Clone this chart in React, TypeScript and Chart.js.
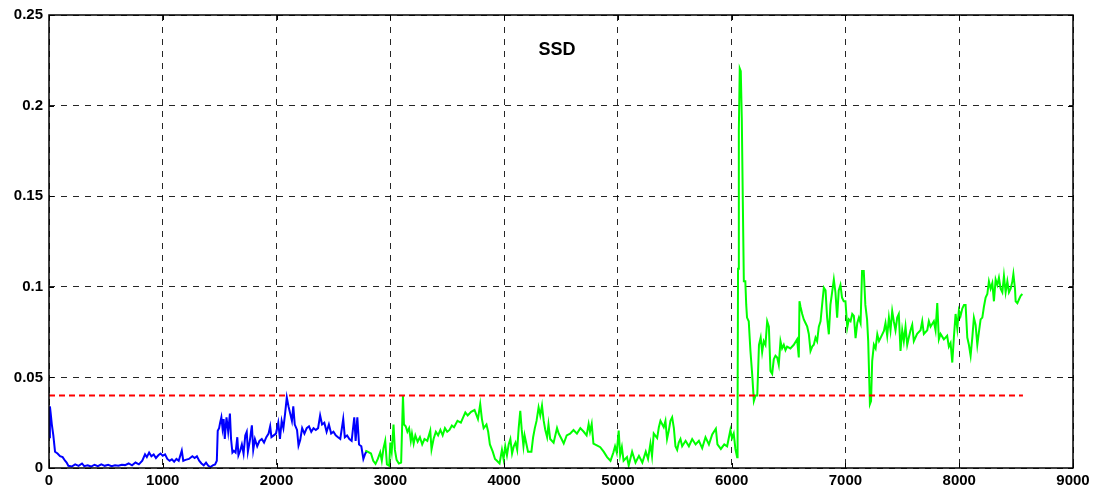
import React, { useEffect, useRef } from "react";
import { Chart, registerables } from "chart.js";

Chart.register(...registerables);

// Axis ticks
const xTicks = [0, 1000, 2000, 3000, 4000, 5000, 6000, 7000, 8000, 9000];
const yTicks = [0, 0.05, 0.1, 0.15, 0.2, 0.25];

// Threshold line
const thresholdValue = 0.04;
const thresholdStart = 0;
const thresholdEnd = 8560;

const titleText = "SSD";

// Training segment (sample index, SSD)
const blueSeries: [number, number][] = [
  [0, 0.017], [8, 0.034], [15, 0.03], [25, 0.024], [38, 0.018], [53, 0.009], [75, 0.008],
  [97, 0.0065], [120, 0.006], [141, 0.004], [155, 0.003], [170, 0.0012], [200, 0.0008],
  [230, 0.002], [260, 0.0012], [290, 0.0025], [310, 0.001], [340, 0.0015], [370, 0.0008],
  [400, 0.0018], [430, 0.001], [460, 0.002], [490, 0.0012], [520, 0.0018], [550, 0.001],
  [580, 0.0015], [610, 0.0012], [640, 0.0018], [668, 0.0016], [700, 0.0025], [730, 0.0015],
  [760, 0.003], [790, 0.002], [820, 0.004], [844, 0.0075], [860, 0.006], [880, 0.0085],
  [900, 0.0065], [920, 0.0075], [940, 0.0055], [961, 0.007], [980, 0.008], [1000, 0.0068],
  [1020, 0.0075], [1040, 0.005], [1060, 0.004], [1080, 0.0048], [1100, 0.0035], [1120, 0.005],
  [1140, 0.004], [1167, 0.0096], [1180, 0.004], [1200, 0.0045], [1230, 0.005], [1260, 0.0065],
  [1280, 0.0055], [1300, 0.0065], [1320, 0.004], [1340, 0.0025], [1360, 0.0015], [1380, 0.003],
  [1400, 0.0012], [1420, 0.0005], [1440, 0.0015], [1460, 0.002], [1475, 0.004], [1483, 0.0206],
  [1495, 0.022], [1504, 0.025], [1515, 0.028], [1525, 0.022], [1535, 0.027], [1545, 0.016],
  [1560, 0.028], [1575, 0.02], [1590, 0.03], [1600, 0.016], [1612, 0.0085], [1625, 0.0095],
  [1640, 0.0085], [1655, 0.017], [1665, 0.007], [1680, 0.0095], [1695, 0.013], [1710, 0.008],
  [1725, 0.018], [1738, 0.02], [1748, 0.009], [1765, 0.015], [1783, 0.0235], [1795, 0.01],
  [1810, 0.016], [1830, 0.012], [1850, 0.015], [1870, 0.016], [1890, 0.014], [1910, 0.017],
  [1930, 0.019], [1944, 0.023], [1955, 0.017], [1975, 0.018], [1995, 0.019], [2015, 0.025],
  [2030, 0.016], [2045, 0.026], [2060, 0.022], [2075, 0.03], [2090, 0.039], [2105, 0.034],
  [2120, 0.03], [2135, 0.026], [2147, 0.034], [2160, 0.024], [2180, 0.021], [2193, 0.0124],
  [2208, 0.0155], [2225, 0.022], [2245, 0.019], [2265, 0.022], [2285, 0.023], [2305, 0.02],
  [2325, 0.022], [2345, 0.021], [2365, 0.022], [2383, 0.029], [2400, 0.024], [2420, 0.025],
  [2440, 0.02], [2460, 0.024], [2480, 0.019], [2500, 0.02], [2520, 0.018], [2540, 0.017],
  [2560, 0.016], [2586, 0.027], [2600, 0.017], [2620, 0.018], [2640, 0.016], [2660, 0.015],
  [2683, 0.028], [2695, 0.015], [2710, 0.028], [2725, 0.013], [2745, 0.012], [2763, 0.005],
  [2780, 0.008], [2792, 0.009],
];

// Monitoring segment (sample index, SSD)
const greenSeries: [number, number][] = [
  [2780, 0.0096], [2800, 0.009], [2830, 0.008], [2850, 0.004], [2870, 0.0023], [2890, 0.005],
  [2911, 0.0087], [2925, 0.004], [2940, 0.011], [2955, 0.015], [2970, 0.002], [2990, 0.0012],
  [3000, 0.014], [3012, 0.009], [3028, 0.024], [3040, 0.01], [3055, 0.0045], [3075, 0.0025],
  [3095, 0.003], [3111, 0.04], [3120, 0.024], [3135, 0.023], [3150, 0.02], [3165, 0.022],
  [3180, 0.015], [3190, 0.019], [3205, 0.0135], [3220, 0.018], [3240, 0.0145], [3260, 0.017],
  [3280, 0.013], [3300, 0.016], [3325, 0.015], [3351, 0.0206], [3362, 0.0103], [3380, 0.016],
  [3400, 0.02], [3420, 0.018], [3440, 0.021], [3460, 0.018], [3480, 0.022], [3500, 0.02],
  [3520, 0.021], [3541, 0.0234], [3560, 0.0225], [3590, 0.026], [3620, 0.025], [3659, 0.0307],
  [3680, 0.029], [3710, 0.031], [3740, 0.032], [3770, 0.027], [3790, 0.0353], [3805, 0.027],
  [3820, 0.022], [3845, 0.024], [3860, 0.02], [3875, 0.013], [3900, 0.009], [3920, 0.005],
  [3937, 0.004], [3960, 0.0025], [3981, 0.01], [3995, 0.005], [4010, 0.012], [4025, 0.007],
  [4040, 0.013], [4055, 0.016], [4070, 0.008], [4085, 0.012], [4100, 0.014], [4115, 0.01],
  [4128, 0.022], [4142, 0.0316], [4155, 0.021], [4170, 0.012], [4180, 0.018], [4195, 0.0135],
  [4210, 0.009], [4240, 0.009], [4255, 0.017], [4270, 0.022], [4285, 0.026], [4303, 0.0335],
  [4318, 0.029], [4333, 0.0344], [4348, 0.026], [4362, 0.021], [4378, 0.017], [4390, 0.024],
  [4405, 0.016], [4435, 0.014], [4465, 0.022], [4480, 0.019], [4505, 0.016], [4524, 0.0135],
  [4550, 0.018], [4580, 0.019], [4610, 0.021], [4640, 0.019], [4670, 0.022], [4700, 0.02],
  [4725, 0.018], [4743, 0.0243], [4755, 0.02], [4770, 0.0243], [4785, 0.0135], [4815, 0.0125],
  [4845, 0.0115], [4875, 0.009], [4905, 0.006], [4935, 0.004], [4960, 0.0085], [4975, 0.012],
  [4990, 0.0085], [5007, 0.0206], [5020, 0.007], [5035, 0.0115], [5050, 0.004], [5080, 0.006],
  [5095, 0.0014], [5125, 0.009], [5155, 0.003], [5185, 0.0067], [5215, 0.003], [5245, 0.009],
  [5265, 0.005], [5286, 0.0135], [5300, 0.0067], [5315, 0.019], [5345, 0.0165], [5360, 0.0225],
  [5374, 0.026], [5403, 0.0225], [5418, 0.026], [5432, 0.016], [5447, 0.0205], [5462, 0.026],
  [5477, 0.028], [5492, 0.022], [5506, 0.012], [5521, 0.01], [5535, 0.014], [5550, 0.016],
  [5565, 0.012], [5595, 0.015], [5624, 0.012], [5653, 0.016], [5683, 0.013], [5712, 0.015],
  [5741, 0.011], [5770, 0.017], [5800, 0.013], [5829, 0.0185], [5861, 0.0217], [5875, 0.013],
  [5905, 0.0105], [5935, 0.013], [5960, 0.012], [5989, 0.021], [6003, 0.0165], [6018, 0.019],
  [6033, 0.0105], [6048, 0.006], [6052, 0.032], [6056, 0.11], [6063, 0.186], [6071, 0.2205],
  [6080, 0.219], [6089, 0.193], [6098, 0.147], [6107, 0.103], [6120, 0.103], [6128, 0.09],
  [6135, 0.083], [6150, 0.081], [6165, 0.0646], [6180, 0.052], [6195, 0.037], [6210, 0.04],
  [6225, 0.04], [6240, 0.068], [6255, 0.072], [6268, 0.064], [6282, 0.07], [6297, 0.068],
  [6312, 0.081], [6327, 0.078], [6341, 0.0536], [6356, 0.052], [6370, 0.06], [6385, 0.062],
  [6400, 0.061], [6414, 0.057], [6429, 0.07], [6443, 0.066], [6458, 0.068], [6473, 0.065],
  [6487, 0.067], [6516, 0.066], [6546, 0.068], [6575, 0.071], [6590, 0.061], [6596, 0.092],
  [6605, 0.089], [6620, 0.085], [6634, 0.082], [6649, 0.08], [6664, 0.078], [6678, 0.074],
  [6693, 0.0646], [6708, 0.067], [6722, 0.068], [6737, 0.072], [6751, 0.07], [6766, 0.078],
  [6781, 0.081], [6795, 0.09], [6810, 0.0995], [6825, 0.098], [6839, 0.083], [6854, 0.0738],
  [6868, 0.09], [6883, 0.097], [6898, 0.104], [6912, 0.097], [6927, 0.083], [6941, 0.098],
  [6956, 0.101], [6970, 0.094], [6985, 0.092], [7000, 0.092], [7016, 0.0775], [7030, 0.082],
  [7045, 0.081], [7060, 0.085], [7074, 0.084], [7089, 0.0717], [7104, 0.08], [7118, 0.083],
  [7133, 0.08], [7146, 0.1087], [7161, 0.1087], [7175, 0.09], [7190, 0.082], [7200, 0.07],
  [7215, 0.0353], [7225, 0.037], [7235, 0.059], [7250, 0.068], [7265, 0.066], [7280, 0.0738],
  [7295, 0.07], [7338, 0.0756], [7352, 0.08], [7367, 0.073], [7382, 0.083], [7396, 0.076],
  [7411, 0.0866], [7425, 0.081], [7440, 0.076], [7455, 0.083], [7469, 0.085], [7484, 0.0646],
  [7499, 0.076], [7513, 0.07], [7528, 0.078], [7543, 0.068], [7557, 0.072], [7572, 0.076],
  [7587, 0.079], [7601, 0.07], [7630, 0.074], [7660, 0.076], [7675, 0.081], [7689, 0.074],
  [7719, 0.076], [7733, 0.081], [7748, 0.078], [7777, 0.081], [7792, 0.076], [7807, 0.091],
  [7821, 0.071], [7836, 0.074], [7865, 0.071], [7894, 0.073], [7909, 0.067], [7924, 0.069],
  [7939, 0.0582], [7953, 0.072], [7968, 0.085], [7983, 0.077], [7997, 0.087], [8012, 0.084],
  [8027, 0.088], [8042, 0.09], [8056, 0.09], [8071, 0.072], [8085, 0.068], [8100, 0.062],
  [8115, 0.072], [8129, 0.083], [8144, 0.079], [8159, 0.068], [8173, 0.075], [8188, 0.082],
  [8203, 0.083], [8217, 0.089], [8232, 0.094], [8247, 0.096], [8261, 0.103], [8276, 0.099],
  [8291, 0.102], [8305, 0.092], [8320, 0.104], [8335, 0.101], [8349, 0.105], [8364, 0.099],
  [8379, 0.097], [8393, 0.106], [8408, 0.097], [8423, 0.103], [8437, 0.097], [8452, 0.099],
  [8467, 0.103], [8476, 0.107], [8490, 0.099], [8496, 0.092], [8511, 0.091], [8525, 0.093],
  [8540, 0.095], [8555, 0.096],
];

const FONT_FAMILY = '"Liberation Sans", Arial, Helvetica, sans-serif';

// Box outline, inward tick marks and the in-plot title
const framePlugin = {
  id: "frame",
  afterDraw(chart: any) {
    const { ctx, chartArea, scales } = chart;
    const { left, right, top, bottom } = chartArea;
    ctx.save();
    ctx.strokeStyle = "#000";
    ctx.lineWidth = 1;
    ctx.setLineDash([]);
    ctx.beginPath();
    const tick = 5;
    for (const v of yTicks) {
      const py = Math.round(scales.y.getPixelForValue(v)) + 0.5;
      ctx.moveTo(left, py);
      ctx.lineTo(left + tick, py);
      ctx.moveTo(right, py);
      ctx.lineTo(right - tick, py);
    }
    for (const v of xTicks) {
      const px = Math.round(scales.x.getPixelForValue(v)) + 0.5;
      ctx.moveTo(px, bottom);
      ctx.lineTo(px, bottom - tick);
      ctx.moveTo(px, top);
      ctx.lineTo(px, top + tick);
    }
    ctx.stroke();
    ctx.lineWidth = 1.5;
    ctx.strokeRect(left, top, right - left, bottom - top);

    ctx.fillStyle = "#000";
    ctx.font = `bold 18px ${FONT_FAMILY}`;
    ctx.textAlign = "center";
    ctx.textBaseline = "middle";
    ctx.fillText(titleText, (left + right) / 2 - 4, top + 35);
    ctx.restore();
  },
};

export default function App() {
  const canvasRef = useRef<HTMLCanvasElement | null>(null);

  useEffect(() => {
    if (!canvasRef.current) return;
    const tickFont = { family: FONT_FAMILY, size: 15, weight: "bold" as const };
    const gridStyle = {
      color: "rgba(0,0,0,0.85)",
      lineWidth: 1,
      drawTicks: false,
      tickLength: 0,
    };
    const chart = new Chart(canvasRef.current, {
      type: "line",
      data: {
        datasets: [
          {
            label: "threshold",
            data: [
              { x: thresholdStart, y: thresholdValue },
              { x: thresholdEnd, y: thresholdValue },
            ],
            borderColor: "#ff0000",
            borderWidth: 2,
            borderDash: [6, 4],
            pointRadius: 0,
            order: 0,
          },
          {
            label: "training",
            data: blueSeries.map(([x, y]) => ({ x, y })),
            borderColor: "#0000ff",
            borderWidth: 2,
            pointRadius: 0,
            tension: 0,
            order: 2,
          },
          {
            label: "monitoring",
            data: greenSeries.map(([x, y]) => ({ x, y })),
            borderColor: "#00ff00",
            borderWidth: 2,
            pointRadius: 0,
            tension: 0,
            order: 1,
          },
        ],
      },
      options: {
        animation: false,
        responsive: false,
        maintainAspectRatio: false,
        layout: { padding: { top: 13, right: 25, left: 0, bottom: 0 } },
        plugins: {
          legend: { display: false },
          tooltip: { enabled: false },
          title: { display: false },
        },
        scales: {
          x: {
            type: "linear",
            min: 0,
            max: 9000,
            afterBuildTicks: (s: any) => {
              s.ticks = xTicks.map((value) => ({ value }));
            },
            afterFit: (s: any) => {
              s.height = 23;
            },
            ticks: {
              font: tickFont,
              color: "#000",
              padding: 4,
              maxRotation: 0,
              autoSkip: false,
              callback: (v: any) => String(v),
            },
            grid: gridStyle,
            border: { display: false, dash: [6, 6] },
          },
          y: {
            type: "linear",
            min: 0,
            max: 0.25,
            afterBuildTicks: (s: any) => {
              s.ticks = yTicks.map((value) => ({ value }));
            },
            afterFit: (s: any) => {
              s.width = 49;
            },
            ticks: {
              font: tickFont,
              color: "#000",
              padding: 6,
              autoSkip: false,
              callback: (v: any) => String(Math.round(v * 100) / 100),
            },
            grid: gridStyle,
            border: { display: false, dash: [6, 6] },
          },
        },
      },
      plugins: [framePlugin],
    });
    return () => chart.destroy();
  }, []);

  return (
    <div style={{ position: "absolute", left: 0, top: 0, width: 1098, height: 491, background: "#fff" }}>
      <canvas ref={canvasRef} width={1098} height={491} />
    </div>
  );
}
